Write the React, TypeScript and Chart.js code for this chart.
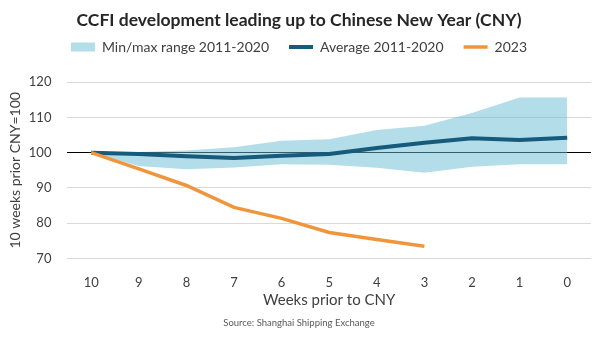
import React, { useEffect, useRef } from "react";
import { Chart, registerables } from "chart.js";

Chart.register(...registerables);

const weeks = ["10", "9", "8", "7", "6", "5", "4", "3", "2", "1", "0"];
const rangeMax = [100, 100.2, 100.6, 101.5, 103.4, 103.8, 106.4, 107.6, 111.2, 115.6, 115.6];
const rangeMin = [100, 96.2, 95.3, 95.8, 96.7, 96.6, 95.7, 94.3, 96.0, 96.7, 96.7];
const average = [100, 99.6, 99.0, 98.5, 99.1, 99.6, 101.3, 102.8, 104.1, 103.6, 104.2];
const series2023 = [100, 95.4, 90.7, 84.5, 81.4, 77.4, 75.4, 73.5, null, null, null];
const yTicks = [70, 80, 90, 100, 110, 120];

const FONT = "Lato, 'Open Sans', sans-serif";
const BAND = "rgba(103, 187, 211, 0.5)";

const legendSpacer = {
  id: "legendSpacer",
  beforeInit(chart: any) {
    const legend = chart.legend;
    if (!legend) return;
    const origFit = legend.fit;
    legend.fit = function () {
      origFit.call(this);
      this.height += 18;
    };
  },
};

export default function App() {
  const ref = useRef<HTMLCanvasElement | null>(null);

  useEffect(() => {
    if (!ref.current) return;
    const chart = new Chart(ref.current, {
      type: "line",
      data: {
        labels: weeks,
        datasets: [
          {
            label: "Min/max range 2011-2020",
            data: rangeMax,
            backgroundColor: BAND,
            borderColor: BAND,
            borderWidth: 0,
            pointRadius: 0,
            pointStyle: "rect",
            fill: "+1",
            order: 3,
          },
          {
            label: "min",
            data: rangeMin,
            backgroundColor: BAND,
            borderColor: BAND,
            borderWidth: 0,
            pointRadius: 0,
            fill: false,
            order: 3,
          },
          {
            label: "Average 2011-2020",
            data: average,
            borderColor: "#165a7c",
            backgroundColor: "#165a7c",
            borderWidth: 4,
            pointRadius: 0,
            pointStyle: "line",
            fill: false,
            order: 1,
          },
          {
            label: "2023",
            data: series2023,
            borderColor: "#f0953b",
            backgroundColor: "#f0953b",
            borderWidth: 3.5,
            pointRadius: 0,
            pointStyle: "line",
            fill: false,
            order: 0,
          },
        ],
      },
      plugins: [legendSpacer],
      options: {
        animation: false,
        responsive: false,
        maintainAspectRatio: false,
        layout: { padding: { left: 7, right: 9, top: 8, bottom: 28 } },
        plugins: {
          title: {
            display: true,
            text: "CCFI development leading up to Chinese New Year (CNY)",
            color: "#262626",
            font: { family: FONT, size: 17.5, weight: "bold" },
            padding: { top: 2, bottom: -11 },
          },
          subtitle: {
            display: true,
            position: "bottom",
            text: "Source: Shanghai Shipping Exchange",
            color: "#595959",
            font: { family: FONT, size: 9.5 },
            padding: { top: 8, bottom: 0 },
          },
          legend: {
            display: true,
            position: "top",
            labels: {
              filter: (item) => item.text !== "min",
              sort: (a, b) => a.datasetIndex - b.datasetIndex,
              usePointStyle: true,
              pointStyleWidth: 24,
              boxHeight: 9,
              padding: 20,
              color: "#404040",
              font: { family: FONT, size: 14 },
            },
          },
          tooltip: { enabled: false },
        },
        scales: {
          x: {
            offset: true,
            grid: { display: false, drawTicks: false },
            border: { display: false },
            ticks: { color: "#404040", font: { family: FONT, size: 13 }, padding: 16 },
            title: {
              display: true,
              text: "Weeks prior to CNY",
              color: "#404040",
              font: { family: FONT, size: 15 },
              padding: { top: -14.6, bottom: 0 },
            },
          },
          y: {
            min: 70,
            max: 120,
            afterBuildTicks: (axis) => {
              axis.ticks = yTicks.map((v) => ({ value: v }));
            },
            grid: {
              drawTicks: false,
              color: (ctx) => (ctx.tick && ctx.tick.value === 100 ? "#000000" : "#d9d9d9"),
              lineWidth: 1,
            },
            border: { display: false },
            ticks: { color: "#404040", font: { family: FONT, size: 13 }, padding: 16 },
            title: {
              display: true,
              text: "10 weeks prior CNY=100",
              color: "#404040",
              font: { family: FONT, size: 14 },
              padding: { top: 0, bottom: -11 },
            },
          },
        },
      },
    });
    return () => chart.destroy();
  }, []);

  return (
    <div style={{ position: "absolute", left: 0, top: 0, width: 600, height: 357, background: "#fff" }}>
      <canvas ref={ref} width={600} height={357} style={{ width: 600, height: 357 }} />
    </div>
  );
}
